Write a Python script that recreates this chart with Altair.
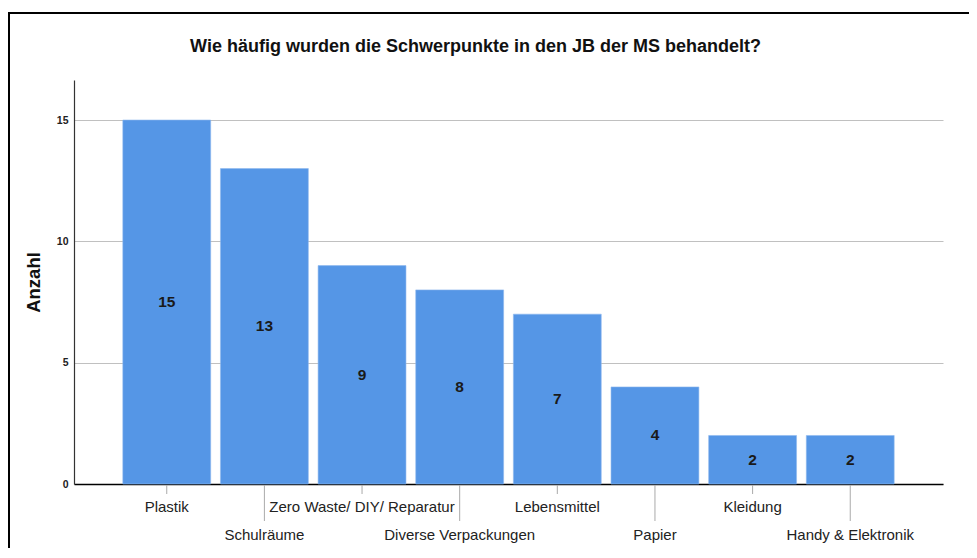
import altair as alt
import pandas as pd

title_text = "Wie häufig wurden die Schwerpunkte in den JB der MS behandelt?"
categories = ["Plastik", "Schulräume", "Zero Waste/ DIY/ Reparatur", "Diverse Verpackungen",
              "Lebensmittel", "Papier", "Kleidung", "Handy & Elektronik"]
values = [15, 13, 9, 8, 7, 4, 2, 2]
y_ticks = [0, 5, 10, 15]

df = pd.DataFrame({"Kategorie": categories, "Anzahl": values})
df["row"] = [i % 2 for i in range(len(categories))]
df["half"] = df["Anzahl"] / 2

FONT = "Liberation Sans"
BAR = "#5596e6"
W, H = 869, 404

x_enc = alt.X("Kategorie:N", sort=categories,
              scale=alt.Scale(paddingInner=0.1, paddingOuter=0.5),
              axis=alt.Axis(labels=False, ticks=False, title=None, domainColor="black",
                            domainWidth=1.5, grid=False))
y_scale = alt.Scale(domain=[0, 16.65], nice=False, zero=True)

base = alt.Chart(df)

bars = base.mark_bar(color=BAR, stroke="#8fb8ee", strokeWidth=0.6).encode(
    x=x_enc,
    y=alt.Y("Anzahl:Q", scale=y_scale,
            axis=alt.Axis(values=y_ticks, ticks=False, grid=True, gridColor="#c0c0c0",
                          gridWidth=1, domainColor="#333333", domainWidth=1.2,
                          labelFont=FONT, labelFontSize=10.5, labelFontWeight="bold",
                          labelColor="#222", labelPadding=6,
                          title="Anzahl", titleFont=FONT, titleFontSize=18.5,
                          titleFontWeight="bold", titleColor="#111", titlePadding=13)),
)

bar_text = base.mark_text(font=FONT, fontSize=15.5, fontWeight="bold", color="#1a1a1a",
                          baseline="middle").encode(
    x=alt.X("Kategorie:N", sort=categories),
    y=alt.Y("half:Q", scale=y_scale),
    text=alt.Text("Anzahl:Q"),
)

tick0 = base.transform_filter("datum.row == 0").mark_rule(color="#aaaaaa", strokeWidth=1).encode(
    x=alt.X("Kategorie:N", sort=categories),
    y=alt.value(H + 1), y2=alt.value(H + 10),
)
tick1 = base.transform_filter("datum.row == 1").mark_rule(color="#aaaaaa", strokeWidth=1).encode(
    x=alt.X("Kategorie:N", sort=categories),
    y=alt.value(H + 1), y2=alt.value(H + 37),
)
lab0 = base.transform_filter("datum.row == 0").mark_text(
    font=FONT, fontSize=15, color="#222", baseline="middle").encode(
    x=alt.X("Kategorie:N", sort=categories),
    y=alt.value(H + 23),
    text="Kategorie:N",
)
lab1 = base.transform_filter("datum.row == 1").mark_text(
    font=FONT, fontSize=15, color="#222", baseline="middle").encode(
    x=alt.X("Kategorie:N", sort=categories),
    y=alt.value(H + 51),
    text="Kategorie:N",
)

deco = alt.Chart(alt.Data(values=[{"t": title_text}]))
frame = deco.mark_rect(fill=None, fillOpacity=0, stroke="black", strokeWidth=2).encode(
    x=alt.value(-65), x2=alt.value(W + 60),
    y=alt.value(-67), y2=alt.value(H + 120),
)
title = deco.mark_text(font=FONT, fontSize=18, fontWeight="bold", color="#111",
                       baseline="middle", align="center").encode(
    x=alt.value(W / 2 - 33), y=alt.value(-33), text="t:N",
)

chart = alt.layer(frame, title, bars, bar_text, tick0, tick1, lab0, lab1).properties(
    width=W, height=H,
    autosize=alt.AutoSizeParams(type="none"),
    padding={"left": 66, "top": 72, "right": 26, "bottom": 64},
    background="white",
).configure_view(strokeWidth=0)

chart.save("out.html", embed_options={"renderer": "svg", "actions": False})
